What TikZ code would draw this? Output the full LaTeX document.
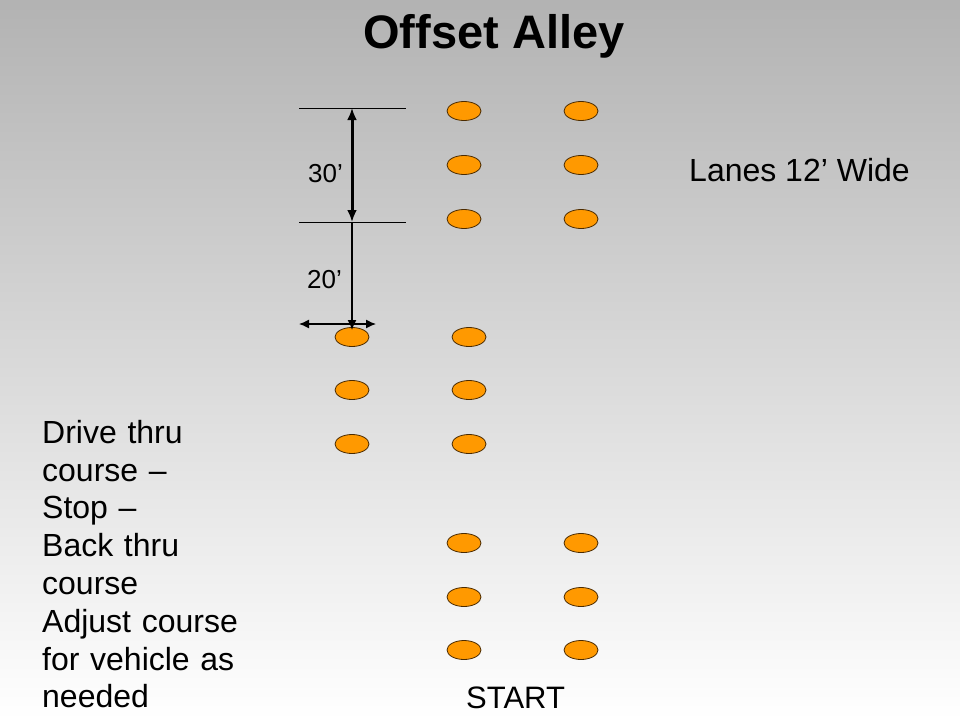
\documentclass[tikz,border=0pt]{standalone}
\usepackage{fontspec}
\setmainfont{Liberation Sans}
\usetikzlibrary{calc,positioning,shapes.geometric,arrows.meta}
\definecolor{conefill}{HTML}{FF9900}
\definecolor{coneline}{HTML}{4A2A00}

\begin{document}
\begin{tikzpicture}[
            x=1pt,y=-1pt,
            every node/.append style={black,inner sep=0pt},
            cone/.style={ellipse,draw=coneline,fill=conefill,line width=0.8pt,
                minimum width=34pt,minimum height=19pt},
            dimline/.style={black,line width=0.9pt},
            thickdim/.style={black,line width=3pt,{Latex[length=12pt,width=10pt]}-{Latex[length=12pt,width=10pt]}},
            thindim/.style={black,line width=1.3pt,-{Latex[length=10pt,width=9pt]}}
        ]
            \shade[top color=black!30,bottom color=white] (0,0) rectangle (960,720);
            \useasboundingbox (0,0) rectangle (960,720);

            % title
            \node[anchor=base,font=\fontsize{47}{56}\selectfont\bfseries] (title) at (494,48) {Offset Alley};

            % cones
            \foreach \r/\y in {1/111,2/165,3/219}{
                \node[cone] (top\r a) at (464,\y) {};
                \node[cone] (top\r b) at (581,\y) {};
            }
            \foreach \r/\y in {1/337,2/390,3/444}{
                \node[cone] (mid\r a) at (352,\y) {};
                \node[cone] (mid\r b) at (469,\y) {};
            }
            \foreach \r/\y in {1/543,2/597,3/650}{
                \node[cone] (bot\r a) at (464,\y) {};
                \node[cone] (bot\r b) at (581,\y) {};
            }

            % dimensions
            \coordinate (d1l) at (299,108);
            \coordinate (d1r) at (406,108);
            \coordinate (d2l) at (299,222);
            \coordinate (d2r) at (406,222);
            \coordinate (d1m) at (352,108);
            \coordinate (d2m) at (352,222);
            \coordinate (d3m) at (352,330);
            \coordinate (wl) at (299,324);
            \coordinate (wr) at (376,324);

            \draw[dimline] (d1l) -- (d1r);
            \draw[dimline] (d2l) -- (d2r);
            \draw[thickdim] (d1m) -- (d2m);
            \draw[thindim] (d2m) -- (d3m);
            \draw[thindim,{Latex[length=10pt,width=9pt]}-{Latex[length=10pt,width=9pt]}] (wl) -- (wr);

            \node[anchor=base west,font=\fontsize{26}{30}\selectfont] (thirty) at (308,182) {30’};
            \node[anchor=base west,font=\fontsize{26}{30}\selectfont] (twenty) at (307,288) {20’};

            % labels
            \node[anchor=base west,font=\fontsize{32}{38}\selectfont] (lanes) at (689,181) {Lanes 12’ Wide};
            \node[anchor=base west,font=\fontsize{31}{38}\selectfont] (start) at (466,708) {START};
            \node[anchor=north west,align=left,text width=240pt,
                font=\fontsize{32}{37.8}\selectfont] (steps) at (42,420)
                {Drive thru\\course –\\Stop –\\Back thru\\course\\Adjust course\\for vehicle as\\needed};
        \end{tikzpicture}
\end{document}
